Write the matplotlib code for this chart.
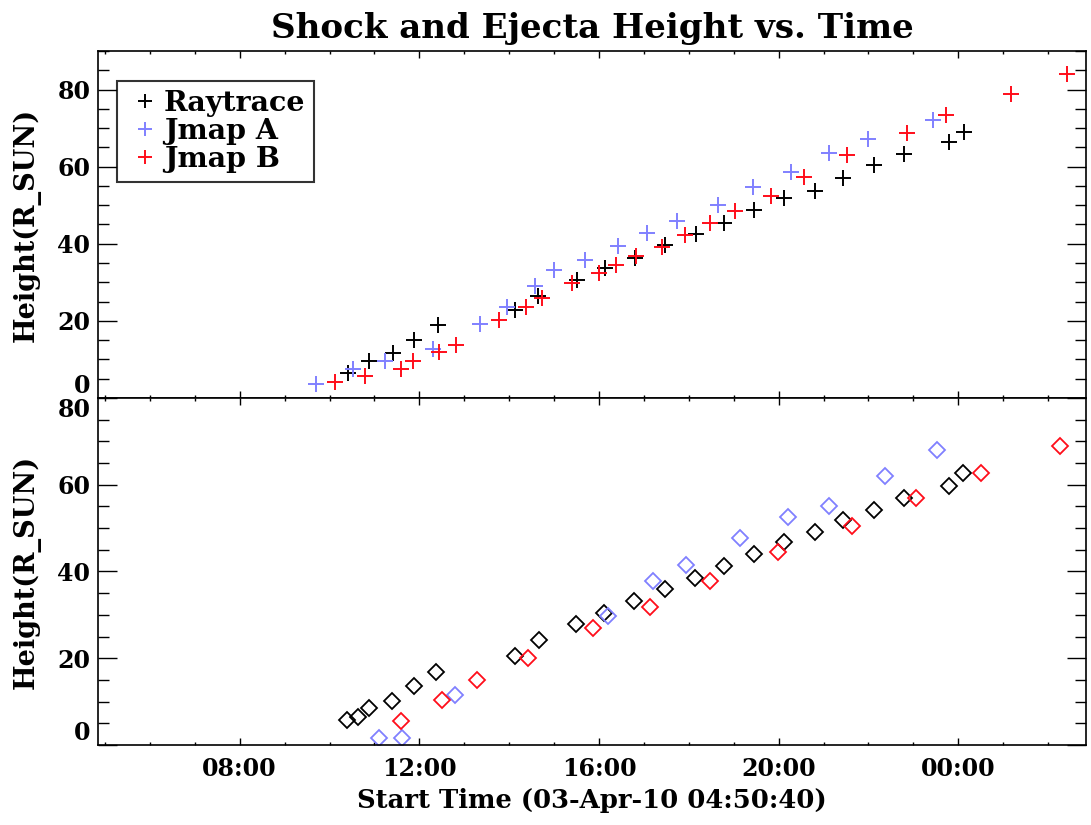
import pandas as pd
import matplotlib
matplotlib.use("Agg")
import matplotlib.pyplot as plt
import matplotlib.dates as mdates

# times are hours of 03-Apr-10 (values above 24 fall on 04-Apr)
day0 = pd.Timestamp("2010-04-03")
start = pd.Timestamp("2010-04-03 04:50:40")
end = start + pd.Timedelta(hours=22)

# shock front (top panel)
ray_shock_t = [10.41, 10.87, 11.41, 11.89, 12.41, 14.13, 14.65, 15.52, 16.13, 16.81, 17.47,
               18.15, 18.78, 19.46, 20.13, 20.80, 21.44, 22.12, 22.79, 23.79, 24.13]
ray_shock_h = [6.6, 9.6, 11.6, 15.0, 19.0, 22.9, 26.5, 30.7, 33.7, 36.2, 39.6,
               42.6, 45.5, 48.8, 51.8, 53.7, 57.1, 60.5, 63.3, 66.4, 69.0]
jmapa_shock_t = [9.70, 10.53, 11.23, 12.30, 13.36, 13.96, 14.58, 14.99, 15.70, 16.42, 17.06,
                 17.73, 18.65, 19.42, 20.28, 21.13, 21.98, 23.44]
jmapa_shock_h = [3.6, 7.4, 9.6, 12.6, 19.2, 23.7, 29.0, 33.3, 35.9, 39.4, 42.9,
                 45.9, 50.1, 54.6, 58.7, 63.6, 67.2, 72.0]
jmapb_shock_t = [10.13, 10.80, 11.59, 11.87, 12.43, 12.82, 13.78, 14.37, 14.74, 15.41, 16.00,
                 16.39, 16.82, 17.41, 17.91, 18.48, 19.04, 19.82, 20.57, 21.53, 22.87,
                 23.73, 25.18, 26.42]
jmapb_shock_h = [4.2, 5.7, 7.4, 9.6, 12.0, 13.8, 20.3, 23.7, 25.9, 29.8, 32.4,
                 34.4, 36.7, 39.2, 42.2, 45.5, 48.4, 52.3, 57.4, 62.9, 68.8,
                 73.3, 78.8, 84.0]

# ejecta (bottom panel)
ray_ej_t = [10.39, 10.64, 10.89, 11.39, 11.89, 12.38, 14.13, 14.67, 15.48, 16.11, 16.79,
            17.47, 18.13, 18.79, 19.46, 20.13, 20.80, 21.44, 22.12, 22.79, 23.79, 24.11]
ray_ej_h = [5.8, 6.5, 8.5, 10.2, 13.6, 16.9, 20.4, 24.1, 27.8, 30.5, 33.1,
            35.9, 38.5, 41.3, 44.1, 46.7, 49.1, 51.8, 54.2, 56.9, 59.8, 62.8]
jmapa_ej_t = [11.11, 11.61, 12.79, 16.21, 17.20, 17.94, 19.15, 20.21, 21.13, 22.38, 23.52]
jmapa_ej_h = [1.7, 1.7, 11.5, 29.8, 37.7, 41.5, 47.7, 52.5, 55.0, 62.1, 67.9]
jmapb_ej_t = [11.59, 12.50, 13.29, 14.42, 15.87, 17.13, 18.47, 19.98, 21.63, 23.05, 24.50, 26.26]
jmapb_ej_h = [5.5, 10.4, 15.0, 20.0, 26.9, 31.9, 37.8, 44.6, 50.6, 56.9, 62.7, 69.0]

labels = ["Raytrace", "Jmap A", "Jmap B"]
colors = ["black", "#8080ff", "#ff0d1a"]


def to_time(hours):
    return day0 + pd.to_timedelta(hours, unit="h")


plt.rcParams["font.family"] = ["DejaVu Serif"]
plt.rcParams["font.weight"] = "bold"

fig = plt.figure(figsize=(10.91, 8.25), dpi=100)
ax1 = fig.add_axes([0.0898, 0.5176, 0.9056, 0.4206])
ax2 = fig.add_axes([0.0898, 0.0970, 0.9056, 0.4206], sharex=ax1)

shock = [(ray_shock_t, ray_shock_h), (jmapa_shock_t, jmapa_shock_h), (jmapb_shock_t, jmapb_shock_h)]
ejecta = [(ray_ej_t, ray_ej_h), (jmapa_ej_t, jmapa_ej_h), (jmapb_ej_t, jmapb_ej_h)]

for (t, h), c, lab in zip(shock, colors, labels):
    ax1.plot(to_time(t), h, ls="none", marker="+", ms=11, mew=1.4, color=c, label=lab)
for (t, h), c in zip(ejecta, colors):
    ax2.plot(to_time(t), h, ls="none", marker="D", ms=8, mew=1.3, mfc="none", mec=c)

ax1.set_ylim(0, 90)
ax2.set_ylim(0, 80)
ax1.set_xlim(start, end)

for ax in (ax1, ax2):
    ax.set_yticks([0, 20, 40, 60, 80])
    ax.yaxis.set_minor_locator(plt.MultipleLocator(5))
    ax.xaxis.set_major_locator(mdates.HourLocator(byhour=range(0, 24, 4)))
    ax.xaxis.set_minor_locator(mdates.HourLocator())
    ax.xaxis.set_major_formatter(mdates.DateFormatter("%H:%M"))
    ax.tick_params(axis="both", which="both", direction="in", top=True, right=True,
                   labelsize=17, width=1.0)
    ax.tick_params(axis="y", which="major", length=14, pad=5.5)
    ax.tick_params(axis="y", which="minor", length=8)
    ax.tick_params(axis="x", which="major", length=5, pad=9)
    ax.tick_params(axis="x", which="minor", length=2.5)
    for s in ax.spines.values():
        s.set_linewidth(1.2)
    ax.set_ylabel("Height(R_SUN)", fontsize=19.5, fontweight="bold", labelpad=12)

ax1.tick_params(axis="x", labelbottom=False)

# keep the 0 / 80 labels at the panel join apart
fig.canvas.draw()
ax1.get_yticklabels()[0].set_va("bottom")
ax2.get_yticklabels()[-1].set_va("top")
ax2.get_yticklabels()[0].set_va("bottom")

ax2.set_xlabel("Start Time (03-Apr-10 04:50:40)", fontsize=18.6, fontweight="bold", labelpad=5)
ax1.set_title("Shock and Ejecta Height vs. Time", fontsize=24.6, fontweight="bold", pad=9)

leg = ax1.legend(loc="upper left", bbox_to_anchor=(0.019, 0.9135), borderaxespad=0,
                 fontsize=20.5, frameon=True, fancybox=False, edgecolor="black",
                 handlelength=1.35, handletextpad=0.0, borderpad=0.3, labelspacing=0.05,
                 markerscale=0.9)
leg.get_frame().set_linewidth(1.5)
for txt in leg.get_texts():
    txt.set_fontweight("bold")

fig.savefig("out.png", dpi=100)
